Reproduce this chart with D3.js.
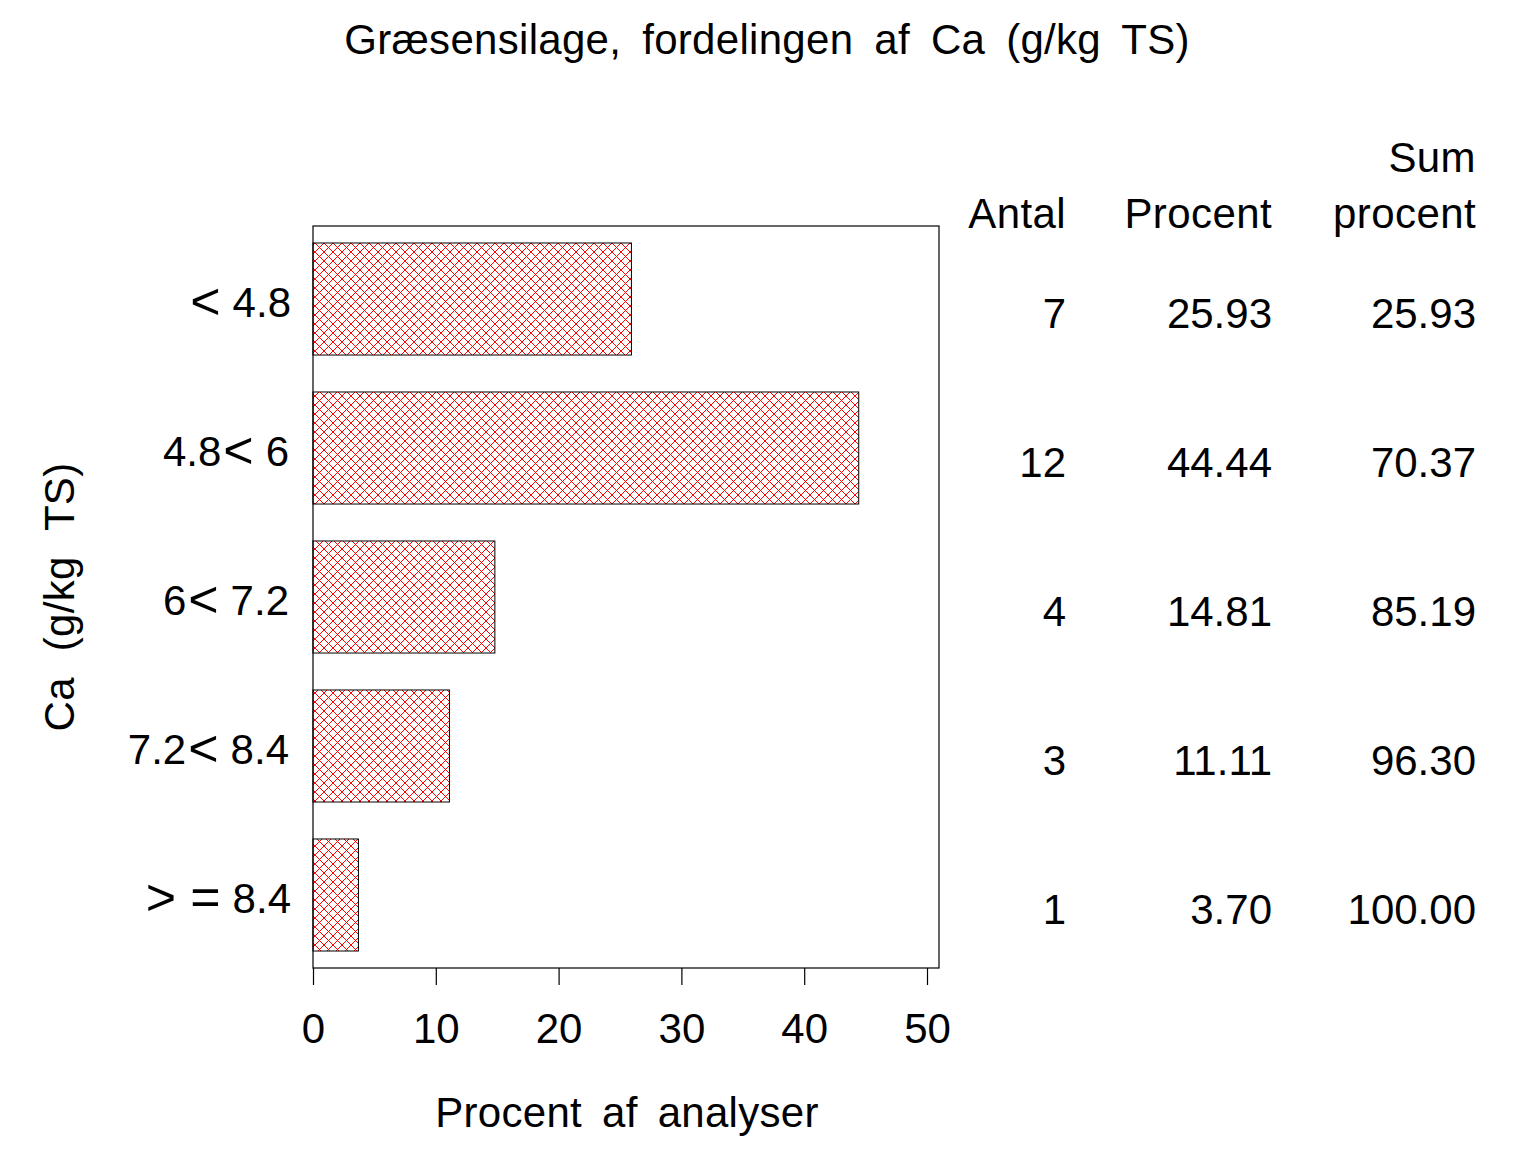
<!DOCTYPE html>
<html>
<head>
<meta charset="utf-8">
<script src="https://cdn.jsdelivr.net/npm/d3@7"></script>
<style>
  body { margin: 0; background: #fff; }
  text { font-family: "Liberation Sans", Arial, sans-serif; fill: #000; }
</style>
</head>
<body>
<svg id="canvas" width="1536" height="1152"></svg>
<script>
// data
let categories = ['<4.8', '4.8<6', '6<7.2', '7.2<8.4', '>=8.4']
let counts = [7, 12, 4, 3, 1]
let percents = [25.93, 44.44, 14.81, 11.11, 3.70]
let cumPercents = [25.93, 70.37, 85.19, 96.30, 100.00]
let xTicks = [0, 10, 20, 30, 40, 50]

let fontSize = 42
let canvas = d3.select('#canvas')

// hatch pattern for the bars
let pattern = canvas.append('defs').append('pattern')
    .attr('id', 'hatch')
    .attr('patternUnits', 'userSpaceOnUse')
    .attr('width', 9)
    .attr('height', 9)
pattern.append('path')
    .attr('d', 'M0,0L9,9M0,9L9,0M-1,8L1,10M8,-1L10,1')
    .attr('stroke', '#ff0000')
    .attr('stroke-width', 1)
    .attr('shape-rendering', 'crispEdges')

let frame = { left: 313, top: 226, right: 939, bottom: 968 }

let xScale = d3.scaleLinear().domain([0, 50]).range([313, 927])
let yScale = d3.scaleBand()
    .domain(categories)
    .range([frame.top, frame.bottom])
    .paddingInner(0.248)
    .paddingOuter(0.114)

// bars
canvas.selectAll('rect.bar')
    .data(categories)
    .enter()
    .append('rect')
    .attr('class', 'bar')
    .attr('x', xScale(0))
    .attr('y', (d) => yScale(d))
    .attr('width', (d, i) => xScale(percents[i]) - xScale(0))
    .attr('height', yScale.bandwidth())
    .attr('fill', 'url(#hatch)')
    .attr('stroke', '#000')
    .attr('stroke-width', 1)

// frame
canvas.append('rect')
    .attr('x', frame.left)
    .attr('y', frame.top)
    .attr('width', frame.right - frame.left)
    .attr('height', frame.bottom - frame.top)
    .attr('fill', 'none')
    .attr('stroke', '#000')
    .attr('stroke-width', 1.2)

// x axis
let xAxis = d3.axisBottom(xScale).tickValues(xTicks).tickSize(17).tickPadding(28)
let xg = canvas.append('g')
    .attr('transform', `translate(0,${frame.bottom})`)
    .call(xAxis)
xg.select('.domain').remove()
xg.selectAll('line').attr('stroke', '#000').attr('stroke-width', 1.2)
xg.selectAll('text')
    .style('font-family', '"Liberation Sans", Arial, sans-serif')
    .style('font-size', fontSize + 'px')

// y category labels - comparison signs are drawn wide with space round them
let catLabels = canvas.selectAll('text.cat')
    .data(categories)
    .enter()
    .append('text')
    .attr('class', 'cat')
    .attr('x', 289)
    .attr('y', (d) => yScale(d) + yScale.bandwidth() / 2 + 18)
    .attr('text-anchor', 'end')
    .style('font-size', fontSize + 'px')

catLabels.each(function (d) {
    let t = d3.select(this)
    let parts = d.match(/[<>=]|[^<>=]+/g)
    let afterSign = false
    parts.forEach((p) => {
        let sign = /[<>=]/.test(p)
        let ts = t.append('tspan').text(p)
        if (sign) {
            ts.style('font-size', '52px').attr('dy', afterSign ? 0 : 2)
            ts.attr('dx', afterSign ? 14 : 2)
        } else {
            ts.attr('dy', afterSign ? -2 : 0)
            if (afterSign) ts.attr('dx', 12)
        }
        afterSign = sign
    })
})

// table columns
let columns = [
    { x: 1066, values: counts.map((d) => String(d)), header: ['', 'Antal'] },
    { x: 1272, values: percents.map((d) => d.toFixed(2)), header: ['', 'Procent'] },
    { x: 1476, values: cumPercents.map((d) => d.toFixed(2)), header: ['Sum', 'procent'] }
]
columns.forEach((col) => {
    canvas.append('text')
        .attr('x', col.x).attr('y', 172)
        .attr('text-anchor', 'end')
        .style('font-size', fontSize + 'px')
        .attr('letter-spacing', 0.4)
        .text(col.header[0])
    canvas.append('text')
        .attr('x', col.x).attr('y', 228)
        .attr('text-anchor', 'end')
        .style('font-size', fontSize + 'px')
        .attr('letter-spacing', 0.4)
        .text(col.header[1])
    canvas.selectAll(null)
        .data(categories)
        .enter()
        .append('text')
        .attr('x', col.x)
        .attr('y', (d) => yScale(d) + yScale.bandwidth() / 2 + 29)
        .attr('text-anchor', 'end')
        .style('font-size', fontSize + 'px')
        .text((d, i) => col.values[i])
})

// title
canvas.append('text')
    .attr('x', 767)
    .attr('y', 54)
    .attr('text-anchor', 'middle')
    .style('font-size', fontSize + 'px')
    .attr('letter-spacing', 0.3)
    .attr('word-spacing', 9)
    .text('Græsensilage, fordelingen af Ca (g/kg TS)')

// x axis title
canvas.append('text')
    .attr('x', 627)
    .attr('y', 1127)
    .attr('text-anchor', 'middle')
    .style('font-size', fontSize + 'px')
    .attr('letter-spacing', 0.3)
    .attr('word-spacing', 8)
    .text('Procent af analyser')

// y axis title
canvas.append('text')
    .attr('transform', 'translate(74,597) rotate(-90)')
    .attr('text-anchor', 'middle')
    .style('font-size', fontSize + 'px')
    .attr('letter-spacing', 0.3)
    .attr('word-spacing', 14)
    .text('Ca (g/kg TS)')
</script>
</body>
</html>
